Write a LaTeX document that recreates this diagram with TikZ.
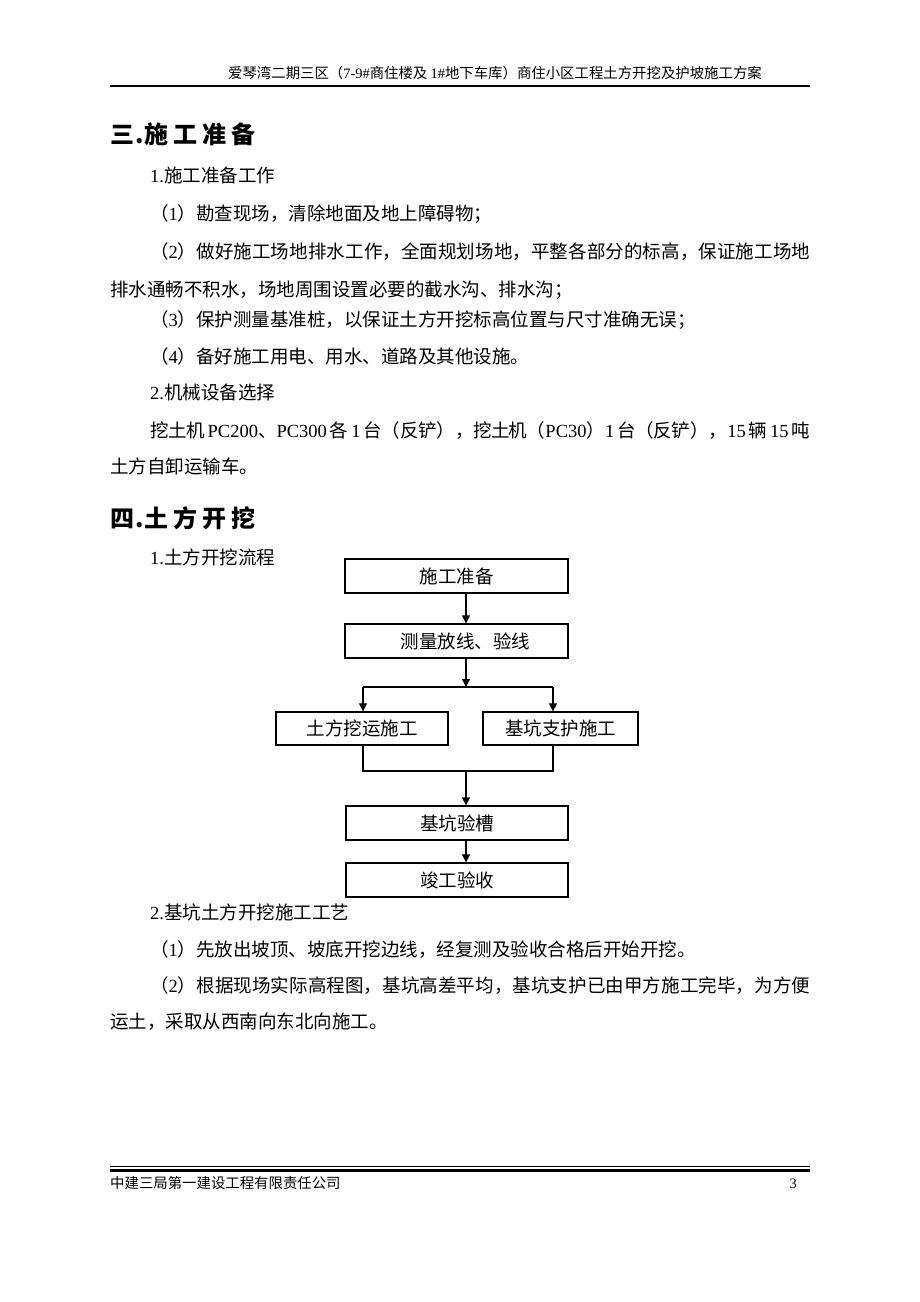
\documentclass[tikz,border=0pt]{standalone}
\usepackage{fontspec}
\setmainfont{Noto Sans CJK SC}
\newfontfamily\latf{Liberation Serif}
\usetikzlibrary{arrows.meta}
\XeTeXlinebreaklocale "zh"
\XeTeXlinebreakskip=0pt plus 2pt minus 1pt
\newcommand\lt[1]{{\latf #1}}
\newcommand\jline[2]{\parbox[b]{#1}{\tolerance=10000\hbadness=10000\parfillskip=0pt\noindent #2}}
\newcommand\hs{\kern5pt}
\newcommand\ls{\hskip 4pt plus 2pt minus 2pt}
\begin{document}
\begin{tikzpicture}[x=1pt,y=-1pt,
  body/.style={anchor=base west, inner sep=0pt, font=\fontsize{18.5}{22}\selectfont},
  smalltext/.style={inner sep=0pt, font=\fontsize{14.4}{17}\selectfont},
  headline/.style={anchor=base west, inner sep=0pt, font=\fontsize{24}{28}\selectfont\bfseries},
  flowbox/.style={draw, line width=1.3pt, inner sep=0pt, minimum height=34pt, font=\fontsize{18.5}{22}\selectfont},
  conn/.style={line width=1.2pt},
  arr/.style={conn, -{Triangle[length=8pt,width=8pt]}}]
\useasboundingbox (0,0) rectangle (920,1302);
\fill[white] (0,0) rectangle (920,1302);

% header
\node[smalltext, anchor=base] (hdr) at (495,78) {爱琴湾二期三区（\lt{7-9\#}商住楼及 \lt{1\#}地下车库）商住小区工程土方开挖及护坡施工方案};
\draw[line width=1.2pt] (110,86) -- (810,86);

% section 3
\node[headline] (h3) at (110,143) {三\kern1pt.\kern1pt 施\hs 工\hs 准\hs 备};
\node[body] (t1) at (150,182) {\lt{1.}施工准备工作};
\node[body] (t2) at (150,220) {（\lt{1}）勘查现场，清除地面及地上障碍物；};
\node[body] (t3) at (150,258) {\jline{660pt}{（\lt{2}）做好施工场地排水工作，全面规划场地，平整各部分的标高，保证施工场地}};
\node[body] (t4) at (110,296) {排水通畅不积水，场地周围设置必要的截水沟、排水沟；};
\node[body] (t5) at (150,326) {（\lt{3}）保护测量基准桩，以保证土方开挖标高位置与尺寸准确无误；};
\node[body] (t6) at (150,363) {（\lt{4}）备好施工用电、用水、道路及其他设施。};
\node[body] (t7) at (150,399) {\lt{2.}机械设备选择};
\node[body] (t8) at (150,437) {\jline{660pt}{挖土机\ls\lt{PC200}、\lt{PC300}\ls 各\ls\lt{1}\ls 台（反铲），挖土机（\lt{PC30}）\lt{1}\ls 台（反铲），\lt{15}\ls 辆\ls\lt{15}\ls 吨}};
\node[body] (t9) at (110,473) {土方自卸运输车。};

% section 4
\node[headline] (h4) at (110,527) {四\kern1pt.\kern1pt 土\hs 方\hs 开\hs 挖};
\node[body] (t10) at (150,564) {\lt{1.}土方开挖流程};

% flowchart
\node[flowbox, minimum width=223pt] (b1) at (456.5,576) {施工准备};
\node[flowbox, minimum width=223pt] (b2) at (456.5,641) {\kern18pt 测量放线、验线};
\node[flowbox, minimum width=172pt, minimum height=33pt] (b3) at (362,728.5) {土方挖运施工};
\node[flowbox, minimum width=155pt, minimum height=33pt] (b4) at (560.5,728.5) {基坑支护施工};
\node[flowbox, minimum width=222pt] (b5) at (457,823) {基坑验槽};
\node[flowbox, minimum width=222pt] (b6) at (457,880) {竣工验收};

\coordinate (sc) at (466,687);
\coordinate (sl) at (363,687);
\coordinate (sr) at (553,687);
\coordinate (ml) at (363,771);
\coordinate (mr) at (553,771);
\coordinate (mc) at (466,771);

\draw[arr] (b1.south -| sc) -- (b2.north -| sc);
\draw[arr] (b2.south -| sc) -- (sc);
\draw[conn] (sl) -- (sr);
\draw[arr] (sl) -- (b3.north -| sl);
\draw[arr] (sr) -- (b4.north -| sr);
\draw[conn] (b3.south -| ml) -- (ml) -- (mr) -- (b4.south -| mr);
\draw[arr] (mc) -- (b5.north -| mc);
\draw[arr] (b5.south -| mc) -- (b6.north -| mc);

\node[body] (t11) at (150,919) {\lt{2.}基坑土方开挖施工工艺};
\node[body] (t12) at (150,956) {（\lt{1}）先放出坡顶、坡底开挖边线，经复测及验收合格后开始开挖。};
\node[body] (t13) at (150,992) {\jline{660pt}{（\lt{2}）根据现场实际高程图，基坑高差平均，基坑支护已由甲方施工完毕，为方便}};
\node[body] (t14) at (110,1028) {运土，采取从西南向东北向施工。};

% footer
\draw[line width=0.8pt] (110,1166) -- (810,1166);
\draw[line width=3.5pt] (110,1170.5) -- (810,1170.5);
\node[smalltext, anchor=base west] (ftr) at (110,1188) {中建三局第一建设工程有限责任公司};
\node[smalltext, anchor=base east] (pg) at (797,1188) {\lt{3}};
\end{tikzpicture}
\end{document}
